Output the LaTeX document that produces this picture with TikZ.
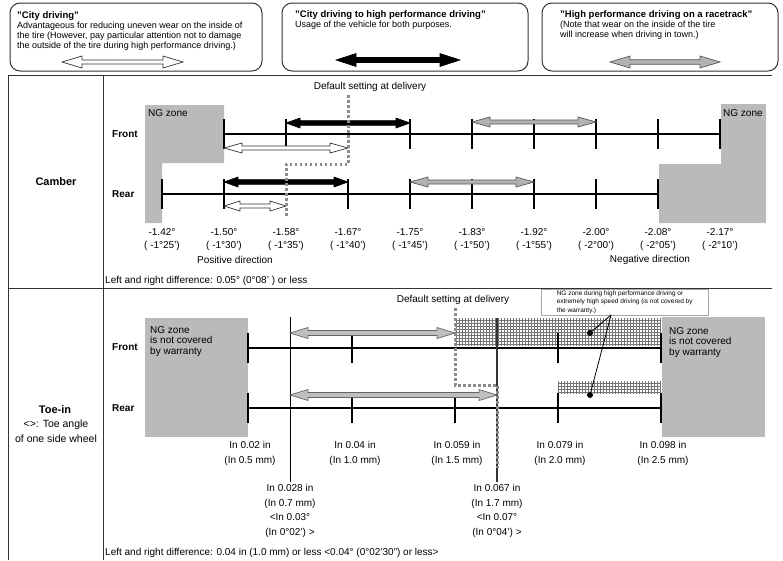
\documentclass[tikz,border=0pt]{standalone}
\usepackage{fontspec}
\setmainfont{Liberation Sans}
\usetikzlibrary{patterns}
\newcommand\dblarr[7]{\filldraw[#1] (#2,#4) -- ({#2+#7},{#4-#6}) -- ({#2+#7},{#4-#5}) -- ({#3-#7},{#4-#5}) -- ({#3-#7},{#4-#6}) -- (#3,#4) -- ({#3-#7},{#4+#6}) -- ({#3-#7},{#4+#5}) -- ({#2+#7},{#4+#5}) -- ({#2+#7},{#4+#6}) -- cycle;}
\newcommand\tk[3]{\draw[tickst] (#1,{#2-#3}) -- (#1,{#2+#3});}
\begin{document}
\begin{tikzpicture}[x=1pt,y=-1pt,
  txt/.style={inner sep=0pt, font=\fontsize{10}{10}\selectfont},
  small/.style={inner sep=0pt, font=\fontsize{9}{10}\selectfont, align=left},
  tiny/.style={inner sep=0pt, font=\fontsize{6.5}{8.5}\selectfont, align=left},
  ttl/.style={inner sep=0pt, font=\fontsize{9.5}{9.5}\selectfont\bfseries},
  rowlbl/.style={inner sep=0pt, font=\fontsize{10}{10}\selectfont\bfseries, anchor=west},
  seclbl/.style={inner sep=0pt, font=\fontsize{11}{11}\selectfont\bfseries},
  infobox/.style={draw=black!80, line width=1pt, rounded corners=10pt},
  grid line/.style={draw=black!80, line width=1pt},
  axis/.style={line width=1.3pt},
  tickst/.style={line width=1.8pt},
  ng/.style={fill=black!27},
  blk/.style={fill=black, draw=black, line width=0.6pt},
  wht/.style={fill=white, draw=black!80, line width=0.7pt},
  gry/.style={fill=black!30, draw=black!65, line width=0.7pt},
  tgry/.style={fill=black!25, draw=black!60, line width=0.7pt},
  defdot/.style={draw=black!45, line width=3pt, dash pattern=on 2.5pt off 2.5pt},
  hatch/.style={pattern=grid, pattern color=black!55},
  thinv/.style={line width=0.9pt},
  ptr/.style={line width=0.8pt}]
\useasboundingbox (0,0) rectangle (783,560);
\fill[white] (0,0) rectangle (783,560);

% ---------- top legend boxes ----------
\draw[infobox] (10,3) rectangle (262,71);
\draw[infobox] (282,3) rectangle (528,71);
\draw[infobox] (542,3) rectangle (778,71);
\node[ttl, anchor=base west] (t1) at (17,18.5) {"City driving"};
\node[small, anchor=north west] (b1) at (17,21.5) {Advantageous for reducing uneven wear on the inside of\\the tire (However, pay particular attention not to damage\\the outside of the tire during high performance driving.)};
\node[ttl, anchor=base west] (t2) at (295,17.5) {"City driving to high performance driving"};
\node[small, anchor=base west] (b2) at (295,27.5) {Usage of the vehicle for both purposes.};
\node[ttl, anchor=base west] (t3) at (560,17.5) {"High performance driving on a racetrack"};
\node[small, anchor=north west] (b3) at (560,21) {(Note that wear on the inside of the tire\\will increase when driving in town.)};
\dblarr{wht}{62}{183}{62}{2}{6}{20}
\dblarr{blk}{336}{460}{60}{2.5}{6.5}{20}
\dblarr{gry}{610}{720}{62}{2.3}{6}{20}

% ---------- table frame ----------
\draw[grid line] (8,75) -- (772,75);
\draw[grid line] (8,288) -- (772,288);
\draw[grid line] (8,75) -- (8,560);
\draw[grid line] (103,75) -- (103,560);

% ---------- camber ----------
\node[seclbl] (camber) at (56,182) {Camber};
\node[rowlbl] (cfront) at (112,134) {Front};
\node[rowlbl] (crear) at (112,194) {Rear};
\fill[ng] (145,105) -- (224,105) -- (224,163) -- (162,163) -- (162,223) -- (145,223) -- cycle;
\fill[ng] (721,104) -- (766,104) -- (766,223) -- (659,223) -- (659,164) -- (721,164) -- cycle;
\node[txt, anchor=north west] (ngl) at (148,109) {NG zone};
\node[txt, anchor=north west] (ngr) at (723,109) {NG zone};
\draw[axis] (224,134) -- (720,134);
\draw[axis] (162,194) -- (658,194);
\foreach \x in {224,286,410,472,534,596,658,720} {\tk{\x}{134}{15}}
\foreach \x in {162,224,348,410,472,534,596,658} {\tk{\x}{194}{15}}
\dblarr{blk}{286}{410}{123}{2.3}{5}{14}
\dblarr{wht}{224}{348}{148}{2}{5}{18}
\dblarr{gry}{472}{596}{122}{2}{5}{18}
\dblarr{blk}{224}{348}{182}{2.3}{5}{14}
\dblarr{wht}{224}{286}{206}{2}{5}{16}
\dblarr{gry}{410}{534}{182}{2}{5}{18}
\draw[defdot] (348,95) -- (348,164) -- (286,164) -- (286,216);
\node[txt] (cdef) at (370,87) {Default setting at delivery};
\foreach \x/\a/\b [count=\i] in {162/-1.42/-1°25,224/-1.50/-1°30,286/-1.58/-1°35,348/-1.67/-1°40,410/-1.75/-1°45,472/-1.83/-1°50,534/-1.92/-1°55,596/-2.00/-2°00,658/-2.08/-2°05,720/-2.17/-2°10} {
  \node[txt] (cd\i) at (\x,232) {\a°};
  \node[txt] (cm\i) at (\x,246) {( \b')};
}
\node[txt] (pos) at (235,260) {Positive direction};
\node[txt] (neg) at (650,260) {Negative direction};
\node[txt, anchor=west] (cdiff) at (105,281) {Left and right difference: 0.05° (0°08' ) or less};

% ---------- toe-in ----------
\node[seclbl] (toe) at (55,410) {Toe-in};
\node[txt, font=\fontsize{10.5}{10.5}\selectfont] (toe2) at (56,425) {<>: Toe angle};
\node[txt, font=\fontsize{10.5}{10.5}\selectfont] (toe3) at (56,439) {of one side wheel};
\node[rowlbl] (tfront) at (112,347) {Front};
\node[rowlbl] (trear) at (112,408) {Rear};
\fill[ng] (145,318) rectangle (248,437);
\fill[ng] (662,317) rectangle (765,437);
\node[txt, anchor=north west, align=left, font=\fontsize{10}{10.5}\selectfont] (ngtl) at (150,326) {NG zone\\is not covered\\by warranty};
\node[txt, anchor=north west, align=left, font=\fontsize{10}{10.5}\selectfont] (ngtr) at (669,327) {NG zone\\is not covered\\by warranty};
\fill[white] (455,318) rectangle (661,345);
\fill[hatch] (455,318) rectangle (661,345);
\fill[white] (558,381) rectangle (661,393);
\fill[hatch] (558,381) rectangle (661,393);
\draw[axis] (248,348) -- (661,348);
\draw[axis] (248,408) -- (661,408);
\foreach \x in {248,352,558,661} {\tk{\x}{348}{15}}
\foreach \x in {248,352,455,558,661} {\tk{\x}{408}{15}}
\draw[thinv] (290,317) -- (290,482);
\draw[line width=1.3pt, black!80] (497,318) -- (497,482);
\dblarr{tgry}{290}{455}{333}{2.5}{5.5}{18}
\dblarr{tgry}{290}{497}{395}{2.5}{5.5}{18}
\draw[defdot] (455,308) -- (455,385) -- (497,385) -- (497,468);
\node[txt] (tdef) at (453,300) {Default setting at delivery};
\node[tiny, anchor=north west, draw=black!35, line width=0.4pt, inner sep=1.5pt, minimum width=167pt, minimum height=26pt] (ann) at (541,289) {NG zone during high performance driving or\\extremely high speed driving (is not covered by\\the warranty.)};
\fill (590,333) circle (3) coordinate (d1);
\fill (590,395) circle (3) coordinate (d2);
\coordinate (ap) at (611,315);
\draw[ptr] (d1) -- (ap);
\draw[ptr] (d2) -- (ap);
\foreach \x/\a/\b [count=\i] in {250/0.02/0.5,355/0.04/1.0,457/0.059/1.5,560/0.079/2.0,663/0.098/2.5} {
  \node[txt] (ti\i) at (\x,445) {In \a\ in};
  \node[txt] (tm\i) at (\x,461) {(In \b\ mm)};
}
\node[txt, align=center, font=\fontsize{10}{14.7}\selectfont, anchor=north] (v1) at (290,484) {In 0.028 in\\(In 0.7 mm)\\<In 0.03°\\(In 0°02') >};
\node[txt, align=center, font=\fontsize{10}{14.7}\selectfont, anchor=north] (v2) at (497,484) {In 0.067 in\\(In 1.7 mm)\\<In 0.07°\\(In 0°04') >};
\node[txt, anchor=west] (tdiff) at (105,553) {Left and right difference: 0.04 in (1.0 mm) or less <0.04° (0°02'30") or less>};
\end{tikzpicture}
\end{document}
